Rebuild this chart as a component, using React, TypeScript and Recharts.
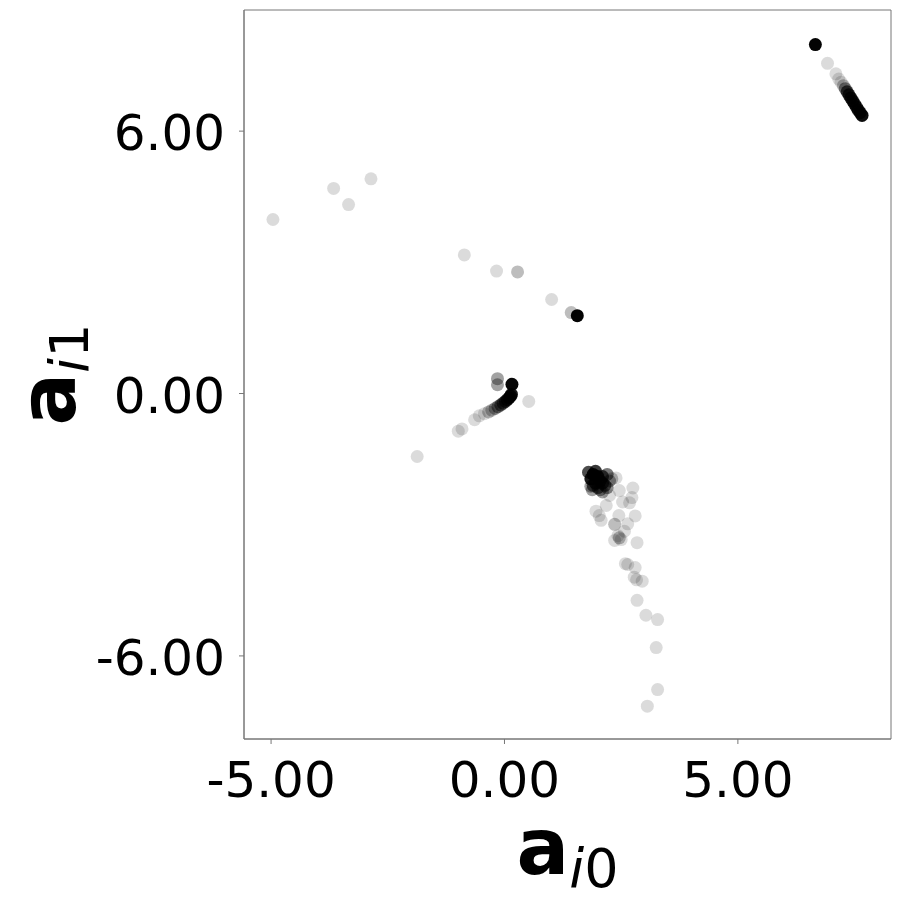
import { ScatterChart, Scatter, XAxis, YAxis, ReferenceArea } from 'recharts';

// [a_i0, a_i1, n] — n = how many samples sit on top of each other at that spot
const farLeft: number[][] = [
  [-4.96, 3.98, 1],
  [-3.66, 4.69, 1],
  [-3.34, 4.32, 1],
  [-2.86, 4.91, 1],
];

const upperArc: number[][] = [
  [-0.86, 3.17, 1],
  [-0.17, 2.8, 1],
  [0.28, 2.78, 2],
  [1.01, 2.15, 1],
  [1.43, 1.85, 2],
  [1.56, 1.78, 30],
];

const nearOrigin: number[][] = [
  [-1.87, -1.44, 1],
  [-0.99, -0.86, 1],
  [-0.91, -0.81, 1],
  [-0.64, -0.6, 1],
  [-0.54, -0.51, 1],
  [-0.43, -0.46, 1],
  [-0.34, -0.42, 2],
  [-0.27, -0.38, 2],
  [-0.2, -0.34, 3],
  [-0.14, -0.3, 4],
  [-0.08, -0.26, 5],
  [-0.03, -0.22, 6],
  [0.02, -0.18, 8],
  [0.06, -0.14, 10],
  [0.1, -0.1, 12],
  [0.13, -0.06, 15],
  [0.15, -0.02, 15],
  [-0.15, 0.34, 3],
  [-0.15, 0.2, 3],
  [0.16, 0.21, 25],
  [0.52, -0.18, 1],
];

const mainCluster: number[][] = [
  [1.9, -1.85, 20],
  [1.8, -1.8, 8],
  [1.95, -1.78, 10],
  [1.85, -1.95, 15],
  [2.0, -1.9, 15],
  [2.1, -1.9, 8],
  [2.2, -1.85, 5],
  [2.05, -2.0, 10],
  [1.95, -2.05, 10],
  [2.1, -2.05, 8],
  [2.15, -2.1, 6],
  [1.9, -2.1, 6],
  [2.0, -2.15, 6],
  [2.2, -2.15, 4],
  [2.05, -2.2, 4],
  [2.25, -2.0, 3],
  [1.85, -2.12, 3],
  [1.88, -2.2, 3],
  [2.1, -2.25, 3],
  [2.3, -1.95, 2],
];

const tail: number[][] = [
  [2.39, -1.93, 1],
  [2.75, -2.16, 1],
  [2.73, -2.38, 1],
  [2.53, -2.48, 1],
  [2.68, -2.5, 1],
  [2.46, -2.22, 1],
  [2.25, -2.33, 1],
  [1.96, -2.69, 1],
  [2.18, -2.56, 1],
  [2.07, -2.9, 1],
  [2.03, -2.79, 1],
  [2.45, -2.79, 1],
  [2.8, -2.8, 1],
  [2.36, -2.99, 2],
  [2.64, -2.98, 1],
  [2.57, -3.15, 1],
  [2.43, -3.25, 1],
  [2.46, -3.3, 2],
  [2.36, -3.36, 1],
  [2.5, -3.34, 1],
  [2.84, -3.41, 1],
  [2.59, -3.89, 1],
  [2.64, -3.91, 1],
  [2.8, -3.98, 1],
  [2.78, -4.2, 1],
  [2.83, -4.26, 1],
  [2.95, -4.29, 1],
  [2.84, -4.73, 1],
  [3.03, -5.07, 1],
  [3.28, -5.17, 1],
  [3.25, -5.81, 1],
  [3.28, -6.77, 1],
  [3.06, -7.15, 1],
];

const topRight: number[][] = [
  [6.66, 7.98, 30],
  [6.92, 7.55, 1],
  [7.1, 7.31, 1],
  [7.16, 7.19, 1],
  [7.21, 7.12, 1],
  [7.26, 7.04, 2],
  [7.3, 6.97, 4],
  [7.34, 6.9, 8],
  [7.38, 6.83, 10],
  [7.42, 6.76, 12],
  [7.46, 6.69, 12],
  [7.5, 6.62, 12],
  [7.54, 6.55, 12],
  [7.58, 6.48, 12],
  [7.62, 6.42, 15],
  [7.66, 6.36, 20],
];

const xTicks = [-5, 0, 5];
const yTicks = [-6, 0, 6];
const xDomain = [-5.58, 8.28];
const yDomain = [-7.9, 8.77];

const points = [...farLeft, ...upperArc, ...nearOrigin, ...mainCluster, ...tail, ...topRight].map(
  ([x, y, n]) => ({ x, y, n }),
);

const ALPHA = 0.14;
const font = 'DejaVu Sans';
const spine = '#777';

function Dot(props: any) {
  const { cx, cy, payload } = props;
  return (
    <circle cx={cx} cy={cy} r={6.5} fill="#000" fillOpacity={1 - Math.pow(1 - ALPHA, payload.n)} />
  );
}

function XTick({ x, y, payload }: any) {
  return (
    <text x={x} y={y} dy={53} textAnchor="middle" fontFamily={font} fontSize={50} fill="#000">
      {Number(payload.value).toFixed(2)}
    </text>
  );
}

function YTick({ x, y, payload }: any) {
  return (
    <text x={x} y={y} dy={19} textAnchor="end" fontFamily={font} fontSize={50} fill="#000">
      {Number(payload.value).toFixed(2)}
    </text>
  );
}

function XLabel({ viewBox }: any) {
  const cx = viewBox.x + viewBox.width / 2;
  return (
    <text x={cx} y={874} textAnchor="middle" fontFamily={font} fill="#000">
      <tspan fontWeight="bold" fontSize={78}>a</tspan>
      <tspan fontStyle="italic" fontSize={54} dy={13}>i</tspan>
      <tspan fontSize={54}>0</tspan>
    </text>
  );
}

function YLabel({ viewBox }: any) {
  const cy = viewBox.y + viewBox.height / 2;
  return (
    <text
      x={75}
      y={cy}
      transform={`rotate(-90, 75, ${cy})`}
      textAnchor="middle"
      fontFamily={font}
      fill="#000"
    >
      <tspan fontWeight="bold" fontSize={78}>a</tspan>
      <tspan fontStyle="italic" fontSize={54} dy={13}>i</tspan>
      <tspan fontSize={54}>1</tspan>
    </text>
  );
}

export default function App() {
  return (
    <div style={{ position: 'absolute', left: 0, top: 0, background: '#fff' }}>
      <ScatterChart width={902} height={902} margin={{ top: 10, right: 11, left: 0, bottom: 0 }}>
        <XAxis
          type="number"
          dataKey="x"
          domain={xDomain}
          ticks={xTicks}
          allowDataOverflow
          height={163}
          tickSize={5}
          tickMargin={0}
          stroke={spine}
          tick={<XTick />}
          label={<XLabel />}
        />
        <YAxis
          type="number"
          dataKey="y"
          domain={yDomain}
          ticks={yTicks}
          allowDataOverflow
          width={244}
          tickSize={5}
          tickMargin={14}
          stroke={spine}
          tick={<YTick />}
          label={<YLabel />}
        />
        <ReferenceArea
          x1={xDomain[0]}
          x2={xDomain[1]}
          y1={yDomain[0]}
          y2={yDomain[1]}
          fill="none"
          stroke={spine}
          strokeWidth={1}
        />
        <Scatter data={points} shape={<Dot />} isAnimationActive={false} />
      </ScatterChart>
    </div>
  );
}
